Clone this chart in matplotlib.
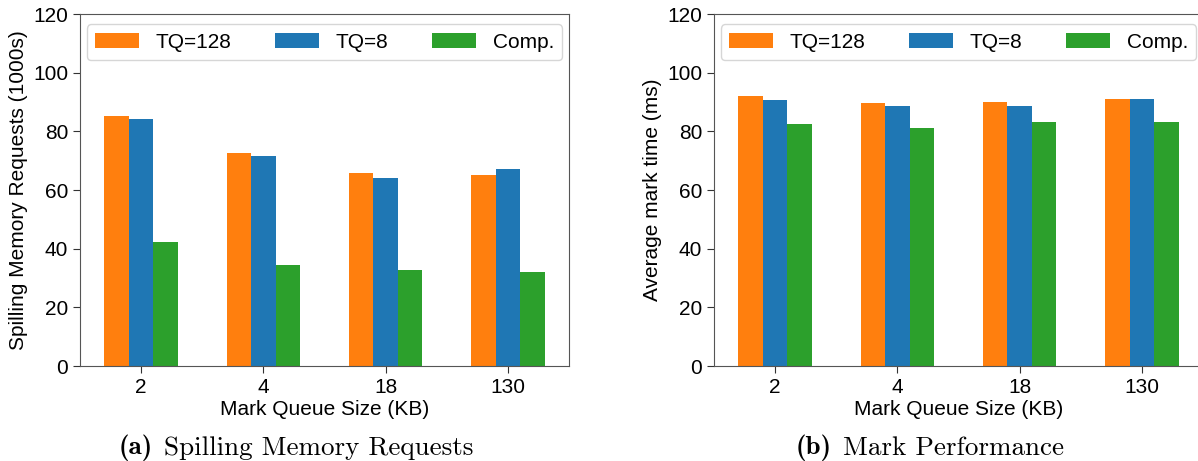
import numpy as np
import matplotlib
matplotlib.use("Agg")
import matplotlib.pyplot as plt

plt.rcParams['font.family'] = ['Liberation Sans', 'DejaVu Sans']

sizes = ['2', '4', '18', '130']
series = ['TQ=128', 'TQ=8', 'Comp.']
colors = ['#ff7f0e', '#1f77b4', '#2ca02c']

# (a) spilling memory requests, in 1000s
spill_tq128 = [85.3, 72.7, 65.9, 65.2]
spill_tq8 = [84.3, 71.7, 64.2, 67.3]
spill_comp = [42.4, 34.6, 32.6, 31.9]

# (b) average mark time, ms
mark_tq128 = [92.1, 89.6, 90.1, 91.1]
mark_tq8 = [90.7, 88.7, 88.7, 91.1]
mark_comp = [82.6, 81.2, 83.2, 83.2]

fig = plt.figure(figsize=(11.98, 4.61), dpi=100)
W, H = 1198, 461
ax1 = fig.add_axes([80 / W, 1 - 366 / H, 489 / W, 352 / H])
ax2 = fig.add_axes([714 / W, 1 - 366 / H, 489 / W, 352 / H])

x = np.arange(len(sizes))
bw = 0.2


def draw(ax, data, ylabel):
    for k, (vals, lab, col) in enumerate(zip(data, series, colors)):
        ax.bar(x + (k - 1) * bw, vals, bw, color=col, label=lab)
    ax.set_xlim(-0.5, 3.5)
    ax.set_ylim(0, 120)
    ax.set_yticks(range(0, 121, 20))
    ax.set_xticks(x)
    ax.set_xticklabels(sizes)
    ax.tick_params(labelsize=15, length=5, color='#333333')
    ax.set_xlabel('Mark Queue Size (KB)', fontsize=15, labelpad=2)
    ax.set_ylabel(ylabel, fontsize=15, labelpad=4)
    for s in ax.spines.values():
        s.set_color('#555555')
    leg = ax.legend(loc='upper center', ncol=3, fontsize=15, handlelength=2.1,
                    handleheight=0.72, handletextpad=0.8, columnspacing=2.1,
                    borderaxespad=0.5, fancybox=True, edgecolor='#cccccc')
    leg.get_frame().set_linewidth(1.0)


draw(ax1, [spill_tq128, spill_tq8, spill_comp], 'Spilling Memory Requests (1000s)')
draw(ax2, [mark_tq128, mark_tq8, mark_comp], 'Average mark time (ms)')

# captions: bold tag + roman title, centred as one line
captions = [('(a)', 'Spilling Memory Requests', 296), ('(b)', 'Mark Performance', 930)]
cap_y = 1 - 448 / H
gap = 11
parts = []
for tag, title, cx in captions:
    t1 = fig.text(0, cap_y, tag, family='cmb10', fontsize=19.5, va='center')
    t2 = fig.text(0, cap_y, title, family='cmr10', fontsize=19.5, va='center')
    parts.append((t1, t2, cx))

fig.canvas.draw()
r = fig.canvas.get_renderer()
for t1, t2, cx in parts:
    w1 = t1.get_window_extent(r).width
    w2 = t2.get_window_extent(r).width
    x0 = cx - (w1 + gap + w2) / 2
    t1.set_x(x0 / W)
    t2.set_x((x0 + w1 + gap) / W)

fig.savefig('out.png', dpi=100)
